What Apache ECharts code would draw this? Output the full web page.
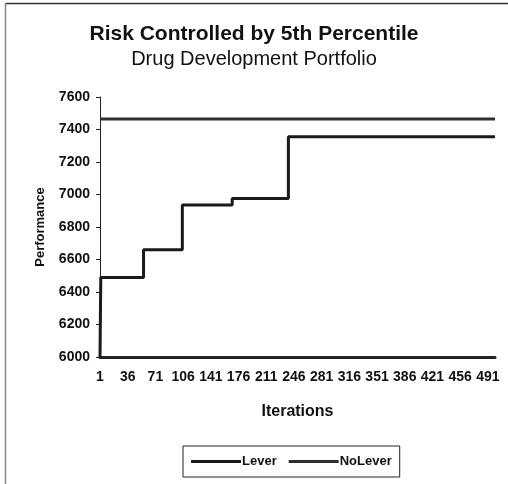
<!DOCTYPE html>
<html>
<head>
<meta charset="utf-8">
<script src="https://cdn.jsdelivr.net/npm/echarts@6/dist/echarts.min.js"></script>
<style>html,body{margin:0;padding:0;background:#fff}#c{width:508px;height:484px}</style>
</head>
<body>
<div id="c"></div>
<script>
// Iterations (categories)
const iterations = [];
for (let i = 1; i <= 500; i++) iterations.push(String(i));
const yTicks = [6000, 6200, 6400, 6600, 6800, 7000, 7200, 7400, 7600];

// Lever: step breakpoints (iteration, performance)
const leverIter = ['1', '2', '56', '105', '168', '239', '500'];
const leverVal  = [6000, 6490, 6660, 6935, 6975, 7356, 7356];
// No Lever: constant
const noLeverIter = ['1', '500'];
const noLeverVal  = [7465, 7465];

const FONT = "'Liberation Sans', Arial, sans-serif";
const chart = echarts.init(document.getElementById('c'), null, {renderer: 'canvas'});
chart.setOption({
  backgroundColor: '#fff',
  animation: false,
  title: [{
    text: 'Risk Controlled by 5th Percentile',
    left: 'center', top: 19,
    textStyle: {fontFamily: FONT, fontSize: 21, fontWeight: 'bold', color: '#111'}
  }, {
    text: 'Drug Development Portfolio',
    left: 'center', top: 44,
    textStyle: {fontFamily: FONT, fontSize: 20, fontWeight: 'normal', color: '#111'}
  }],
  grid: {left: 100, right: 13, top: 97, bottom: 127, containLabel: false},
  legend: {
    left: 183, top: 446,
    width: 217,
    padding: [9, 8, 9, 8],
    borderColor: '#222', borderWidth: 1,
    itemWidth: 50, itemHeight: 3, itemGap: 12,
    icon: 'rect',
    textStyle: {fontFamily: FONT, fontSize: 13, fontWeight: 'bold', color: '#111', padding: [0, 0, 0, -4]},
    data: ['Lever', 'NoLever']
  },
  xAxis: {
    type: 'category',
    data: iterations,
    boundaryGap: false,
    name: 'Iterations',
    nameLocation: 'middle',
    nameGap: 47,
    nameTextStyle: {fontFamily: FONT, fontSize: 16, fontWeight: 'bold', color: '#111'},
    axisLine: {lineStyle: {color: '#222', width: 3}},
    axisTick: {show: false},
    axisLabel: {interval: 34, fontFamily: FONT, fontSize: 14, fontWeight: 'bold', color: '#111', margin: 13},
    splitLine: {show: false}
  },
  yAxis: {
    type: 'value',
    min: yTicks[0], max: yTicks[yTicks.length - 1], interval: 200,
    name: 'Performance',
    nameLocation: 'middle',
    nameGap: 53,
    nameTextStyle: {fontFamily: FONT, fontSize: 13, fontWeight: 'bold', color: '#111'},
    axisLine: {show: true, lineStyle: {color: '#222', width: 1}},
    axisTick: {show: true, length: 4, lineStyle: {color: '#222'}},
    axisLabel: {fontFamily: FONT, fontSize: 14, fontWeight: 'bold', color: '#111', margin: 10,
      formatter: v => String(v)},
    splitLine: {show: false}
  },
  series: [{
    name: 'Lever',
    type: 'line',
    step: 'end',
    symbol: 'none',
    color: '#1a1a1a',
    lineStyle: {width: 3, color: '#1a1a1a'},
    data: leverIter.map((x, i) => [x, leverVal[i]])
  }, {
    name: 'NoLever',
    type: 'line',
    symbol: 'none',
    color: '#2e2e2e',
    lineStyle: {width: 3, color: '#2e2e2e'},
    data: noLeverIter.map((x, i) => [x, noLeverVal[i]])
  }],
  graphic: [
    {type: 'line', shape: {x1: 6, y1: 3.5, x2: 508, y2: 3.5}, style: {stroke: '#333', lineWidth: 1.5}},
    {type: 'line', shape: {x1: 5.5, y1: 3, x2: 5.5, y2: 484}, style: {stroke: '#888', lineWidth: 1.5}}
  ]
});
</script>
</body>
</html>
